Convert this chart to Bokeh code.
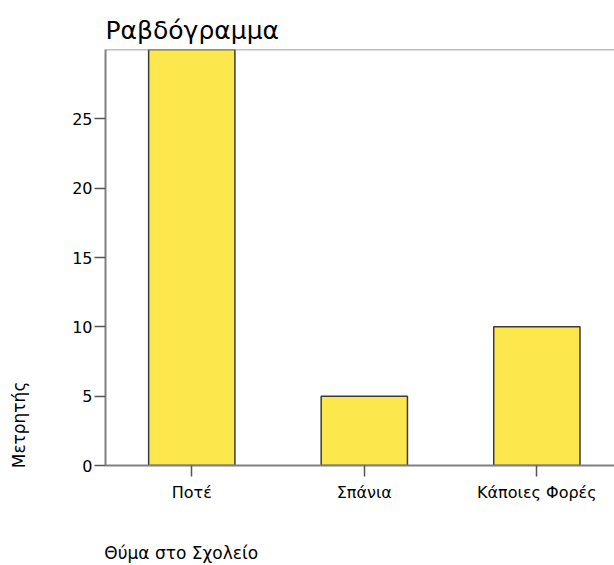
from bokeh.plotting import figure
from bokeh.models import FixedTicker, Range1d, Span, ColumnDataSource
from bokeh.embed import file_html
from bokeh.resources import INLINE

categories = ["Ποτέ", "Σπάνια", "Κάποιες Φορές"]
counts = [30, 5, 10]
y_ticks = [0, 5, 10, 15, 20, 25]
title_text = "Ραβδόγραμμα"
x_title = "Θύμα στο Σχολείο"
y_title = "Μετρητής"

FONT = "DejaVu Sans"
AXIS_GRAY = "#808080"
NBSP = "\u00a0"

xs = list(range(len(categories)))
src = ColumnDataSource(dict(x=xs, top=counts, cat=categories))

p = figure(width=614, height=565, output_backend="svg", toolbar_location=None,
           x_range=Range1d(-0.5, 2.45), y_range=Range1d(0, 30),
           min_border_left=105, min_border_right=0, min_border_top=49, min_border_bottom=99)

p.title.text = title_text
p.title.text_font = FONT
p.title.text_font_size = "25px"
p.title.text_font_style = "normal"
p.title.text_color = "#000000"
p.title.align = "left"
p.title.standoff = 10

p.vbar(x="x", top="top", width=0.5, source=src,
       fill_color="#FCE74C", line_color="#3a3a3a", line_width=1.5)

p.outline_line_color = None
p.background_fill_color = "white"
p.border_fill_color = "white"
p.xgrid.visible = False
p.ygrid.visible = False

top_line = Span(location=p.y_range.end, dimension="width", line_color=AXIS_GRAY, line_width=1.5)
p.add_layout(top_line)

xa = p.xaxis[0]
xa.ticker = FixedTicker(ticks=xs)
xa.major_label_overrides = {i: c for i, c in zip(xs, categories)}
# axis titles start at the axis origin (label is centred on the start point,
# so it is padded with non-breaking spaces of about its own width)
xa.axis_label = NBSP * 28 + x_title
xa.axis_label_standoff = 38
ya = p.yaxis[0]
ya.ticker = FixedTicker(ticks=y_ticks)
ya.axis_label = NBSP * 15 + y_title
ya.axis_label_standoff = 40

for ax in (xa, ya):
    ax.axis_line_color = AXIS_GRAY
    ax.axis_line_width = 2
    ax.major_tick_line_color = "#555555"
    ax.major_tick_line_width = 1.5
    ax.major_tick_in = 0
    ax.major_tick_out = 11
    ax.minor_tick_line_color = None
    ax.major_label_text_font = FONT
    ax.major_label_text_font_size = "16px"
    ax.major_label_text_color = "#000000"
    ax.axis_label_align = "start"
    ax.axis_label_text_font = FONT
    ax.axis_label_text_font_size = "17px"
    ax.axis_label_text_font_style = "normal"
    ax.axis_label_text_color = "#000000"
xa.major_label_standoff = 6
ya.major_label_standoff = 2

open("out.html", "w").write(file_html(p, INLINE))
